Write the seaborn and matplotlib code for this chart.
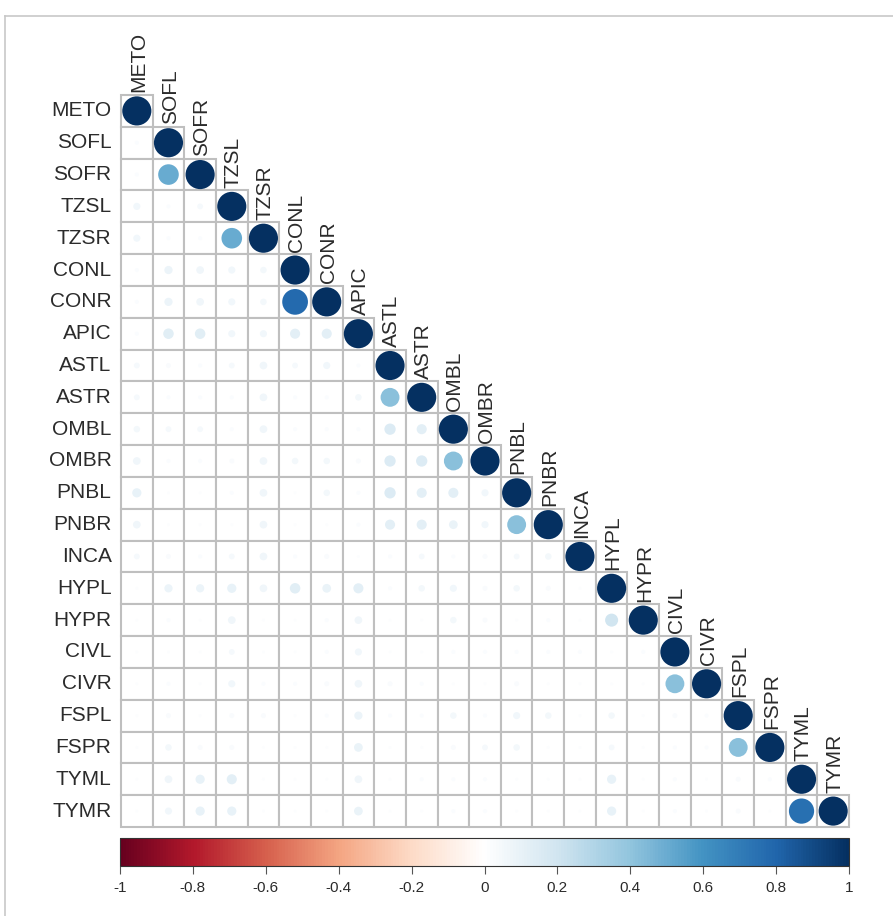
import numpy as np
import pandas as pd
import matplotlib
matplotlib.use("Agg")
import matplotlib.pyplot as plt
import seaborn as sns
from matplotlib.colors import LinearSegmentedColormap, Normalize
from matplotlib.lines import Line2D
from matplotlib.patches import Rectangle

variables = ["METO", "SOFL", "SOFR", "TZSL", "TZSR", "CONL", "CONR", "APIC",
             "ASTL", "ASTR", "OMBL", "OMBR", "PNBL", "PNBR", "INCA", "HYPL",
             "HYPR", "CIVL", "CIVR", "FSPL", "FSPR", "TYML", "TYMR"]

# lower-triangle correlations, row by row (excluding diagonal, which is 1)
row_SOFL = [0.02]
row_SOFR = [0.02, 0.50]
row_TZSL = [0.06, 0.02, 0.04]
row_TZSR = [0.06, 0.02, 0.02, 0.50]
row_CONL = [0.02, 0.08, 0.07, 0.06, 0.05]
row_CONR = [0.02, 0.08, 0.07, 0.06, 0.05, 0.78]
row_APIC = [0.02, 0.13, 0.13, 0.06, 0.06, 0.12, 0.12]
row_ASTL = [0.04, 0.03, 0.02, 0.04, 0.07, 0.04, 0.06, 0.02]
row_ASTR = [0.04, 0.02, 0.02, 0.02, 0.07, 0.02, 0.02, 0.05, 0.42]
row_OMBL = [0.05, 0.04, 0.04, 0.02, 0.07, 0.02, 0.02, 0.02, 0.15, 0.12]
row_OMBR = [0.07, 0.02, 0.02, 0.03, 0.07, 0.05, 0.05, 0.03, 0.15, 0.15, 0.42]
row_PNBL = [0.10, 0.01, 0.01, 0.02, 0.07, 0.01, 0.05, 0.02, 0.15, 0.12, 0.12, 0.06]
row_PNBR = [0.07, 0.01, 0.01, 0.01, 0.07, 0.01, 0.01, 0.02, 0.12, 0.12, 0.09, 0.06, 0.42]
row_INCA = [0.04, 0.03, 0.02, 0.04, 0.07, 0.02, 0.03, 0.01, 0.02, 0.04, 0.02, 0.03, 0.04, 0.05]
row_HYPL = [0.01, 0.08, 0.08, 0.10, 0.07, 0.13, 0.09, 0.12, 0.02, 0.05, 0.06, 0.03, 0.05, 0.03, 0.01]
row_HYPR = [0.01, 0.02, 0.01, 0.07, 0.01, 0.01, 0.02, 0.07, 0.01, 0.01, 0.05, 0.03, 0.01, 0.02, 0.01, 0.20]
row_CIVL = [0.01, 0.01, 0.01, 0.04, 0.01, 0.01, 0.02, 0.06, 0.01, 0.01, 0.02, 0.02, 0.02, 0.02, 0.02, 0.01, 0.02]
row_CIVR = [0.01, 0.02, 0.01, 0.06, 0.02, 0.02, 0.03, 0.07, 0.03, 0.02, 0.01, 0.01, 0.03, 0.01, 0.01, 0.01, 0.01, 0.42]
row_FSPL = [0.01, 0.03, 0.01, 0.03, 0.03, 0.01, 0.02, 0.08, 0.02, 0.02, 0.05, 0.02, 0.06, 0.05, 0.01, 0.05, 0.01, 0.03, 0.02]
row_FSPR = [0.01, 0.05, 0.03, 0.03, 0.01, 0.01, 0.01, 0.09, 0.01, 0.01, 0.03, 0.04, 0.05, 0.01, 0.01, 0.04, 0.01, 0.02, 0.02, 0.42]
row_TYML = [0.01, 0.07, 0.10, 0.12, 0.01, 0.01, 0.01, 0.07, 0.01, 0.02, 0.02, 0.02, 0.01, 0.01, 0.01, 0.10, 0.01, 0.02, 0.01, 0.03, 0.02]
row_TYMR = [0.01, 0.06, 0.10, 0.10, 0.01, 0.01, 0.01, 0.09, 0.01, 0.01, 0.02, 0.02, 0.01, 0.01, 0.01, 0.10, 0.01, 0.02, 0.01, 0.03, 0.01, 0.75]

lower_rows = [[], row_SOFL, row_SOFR, row_TZSL, row_TZSR, row_CONL, row_CONR,
              row_APIC, row_ASTL, row_ASTR, row_OMBL, row_OMBR, row_PNBL,
              row_PNBR, row_INCA, row_HYPL, row_HYPR, row_CIVL, row_CIVR,
              row_FSPL, row_FSPR, row_TYML, row_TYMR]

colorbar_ticks = [-1, -0.8, -0.6, -0.4, -0.2, 0, 0.2, 0.4, 0.6, 0.8, 1]
colorbar_labels = ["-1", "-0.8", "-0.6", "-0.4", "-0.2", "0", "0.2", "0.4", "0.6", "0.8", "1"]

n = len(variables)
records = []
for i, vals in enumerate(lower_rows):
    for j, v in enumerate(list(vals) + [1.0]):
        records.append({"row": variables[i], "col": variables[j],
                        "x": j + 0.5, "y": i + 0.5, "r": v})
df = pd.DataFrame(records)

col2 = ["#67001F", "#B2182B", "#D6604D", "#F4A582", "#FDDBC7", "#FFFFFF",
        "#D1E5F0", "#92C5DE", "#4393C3", "#2166AC", "#053061"]
cmap = LinearSegmentedColormap.from_list("corrRdBu", col2, N=256)

W, H = 893, 916
fig = plt.figure(figsize=(W / 100, H / 100), dpi=100)
plt.rcParams['font.family'] = ['Liberation Sans', 'DejaVu Sans']

# figure frame
fig.add_artist(Line2D([5 / W, 5 / W], [0, 1 - 16 / H], color="#c8c8c8", lw=1.2))
fig.add_artist(Line2D([5 / W, 1], [1 - 16 / H, 1 - 16 / H], color="#c8c8c8", lw=1.2))

left, right, top, bottom = 121, 849, 95, 827
ax = fig.add_axes([left / W, 1 - bottom / H, (right - left) / W, (bottom - top) / H])

# cell borders of the lower triangle
for i in range(n):
    for j in range(i + 1):
        ax.add_patch(Rectangle((j, i), 1, 1, facecolor="white", edgecolor="#bfbfbf",
                               linewidth=1.5, clip_on=False, zorder=1))

sns.scatterplot(data=df, x="x", y="y", hue="r", size="r",
                palette=cmap, hue_norm=(-1, 1), sizes=(0, 440), size_norm=(0, 1),
                linewidth=0, legend=False, ax=ax, zorder=3)
for c in ax.collections:
    c.set_clip_on(False)

ax.set_xlim(0, n)
ax.set_ylim(n, 0)
ax.set_xticks([])
ax.set_yticks([])
ax.set_xlabel("")
ax.set_ylabel("")
ax.set_facecolor("none")
for s in ax.spines.values():
    s.set_visible(False)

txt_color = "#2b2b2b"
for i, name in enumerate(variables):
    ax.text(-0.3, i + 0.5, name, ha="right", va="center", fontsize=15, color=txt_color)
    ax.text(i + 0.55, i - 0.08, name, ha="center", va="bottom", rotation=90,
            fontsize=15, color=txt_color)

# colorbar
cax = fig.add_axes([120 / W, 1 - 866 / H, 729 / W, 28 / H])
sm = plt.cm.ScalarMappable(norm=Normalize(-1, 1), cmap=cmap)
cb = fig.colorbar(sm, cax=cax, orientation="horizontal")
cb.set_ticks(colorbar_ticks)
cb.set_ticklabels(colorbar_labels)
cb.outline.set_edgecolor("#333333")
cb.outline.set_linewidth(0.8)
cax.tick_params(axis="x", length=6, width=0.8, color="#555555", labelsize=11,
                labelcolor=txt_color, pad=5)

fig.savefig("out.png", dpi=100)
